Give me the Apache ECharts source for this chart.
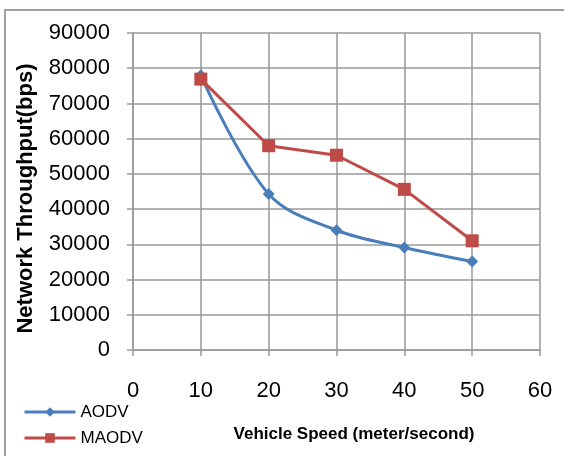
<!DOCTYPE html>
<html>
<head>
<meta charset="utf-8">
<script src="https://cdn.jsdelivr.net/npm/echarts@6/dist/echarts.min.js"></script>
<style>
  html, body { margin: 0; padding: 0; background: #fff; }
  #chart { width: 564px; height: 456px; }
</style>
</head>
<body>
<div id="chart"></div>
<script>
// Vehicle speed (m/s) and measured throughput for each routing protocol
const speeds = [10, 20, 30, 40, 50];
const aodv = [78000, 44300, 34000, 29100, 25100];
const maodv = [76900, 58000, 55300, 45600, 31000];
const seriesNames = ['AODV', 'MAODV'];

const FONT = '"Liberation Sans", Arial, sans-serif';
const GRID = '#999999';

const chart = echarts.init(document.getElementById('chart'), null, { renderer: 'canvas' });

chart.setOption({
  animation: false,
  backgroundColor: '#ffffff',
  graphic: [{
    type: 'rect',
    shape: { x: 5, y: 10, width: 620, height: 500 },
    style: { fill: 'none', stroke: '#a0a0a0', lineWidth: 2 },
    silent: true,
    z: -1
  }],
  grid: { left: 133, right: 24, top: 33, bottom: 106 },
  legend: {
    orient: 'vertical',
    left: 18,
    top: 397,
    itemWidth: 51,
    itemHeight: 12,
    itemGap: 6,
    lineStyle: { width: 3 },
    textStyle: { fontFamily: FONT, fontSize: 17, color: '#000', lineHeight: 20 },
    data: seriesNames
  },
  xAxis: {
    type: 'value',
    min: 0, max: 60, interval: 10,
    name: 'Vehicle Speed (meter/second)',
    nameLocation: 'middle',
    nameGap: 76,
    nameTextStyle: { fontFamily: FONT, fontSize: 17, fontWeight: 'bold', color: '#000', padding: [0, 0, 0, 35] },
    axisLine: { show: true, lineStyle: { color: GRID, width: 1.5 } },
    axisTick: { show: true, length: 6, lineStyle: { color: GRID, width: 1.5 } },
    axisLabel: { fontFamily: FONT, fontSize: 22, color: '#000', margin: 30 },
    splitLine: { show: true, lineStyle: { color: GRID, width: 1.5 } }
  },
  yAxis: {
    type: 'value',
    min: 0, max: 90000, interval: 10000,
    name: 'Network Throughput(bps)',
    nameLocation: 'middle',
    nameGap: 96,
    nameTextStyle: { fontFamily: FONT, fontSize: 22, fontWeight: 'bold', color: '#000', padding: [0, 14, 0, 0] },
    axisLine: { show: true, lineStyle: { color: GRID, width: 1.5 } },
    axisTick: { show: true, length: 6, lineStyle: { color: GRID, width: 1.5 } },
    axisLabel: { fontFamily: FONT, fontSize: 22, color: '#000', margin: 23, formatter: v => String(v) },
    splitLine: { show: true, lineStyle: { color: GRID, width: 1.5 } }
  },
  series: [
    {
      name: seriesNames[0],
      type: 'line',
      smooth: 0.35,
      data: speeds.map((s, i) => [s, aodv[i]]),
      symbol: 'diamond',
      symbolSize: 12,
      lineStyle: { color: '#4a7ebb', width: 3 },
      itemStyle: { color: '#4a7ebb' },
      z: 3
    },
    {
      name: seriesNames[1],
      type: 'line',
      data: speeds.map((s, i) => [s, maodv[i]]),
      symbol: 'rect',
      symbolSize: 13,
      lineStyle: { color: '#be4b48', width: 3 },
      itemStyle: { color: '#be4b48' },
      z: 4
    }
  ]
});
</script>
</body>
</html>
